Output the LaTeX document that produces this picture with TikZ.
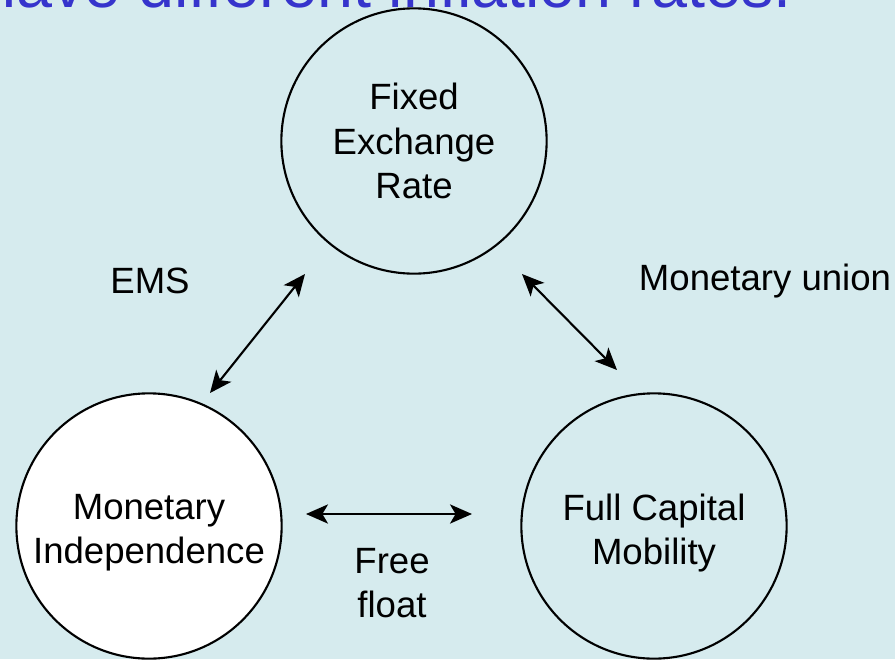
\documentclass[tikz,border=0pt]{standalone}
\usepackage{fontspec}
\setmainfont{Liberation Sans}
\usetikzlibrary{arrows.meta}
\definecolor{slidebg}{RGB}{214,235,238}
\definecolor{titleblue}{RGB}{54,52,204}
\tikzset{
  bubble/.style={circle, draw, line width=1.5pt, minimum size=6.63cm, inner sep=0pt},
  link/.style={{Stealth[length=0.55cm,width=0.48cm,inset=0.14cm]}-{Stealth[length=0.55cm,width=0.48cm,inset=0.14cm]}, line width=1.5pt},
  tag/.style={align=center, font=\fontsize{26}{31.5}\selectfont}
}
\begin{document}
\begin{tikzpicture}[x=0.025cm, y=-0.025cm]
\useasboundingbox (0,0) rectangle (895,659);
\clip (0,0) rectangle (895,659);
\fill[slidebg] (0,0) rectangle (895,659);
\node[anchor=base west, inner sep=0pt, text=titleblue, font=\fontsize{46}{50}\selectfont] (title) at (-20,7) {have different inflation rates.};

\node[bubble] (fixed) at (414,141) {};
\node[bubble, fill=white] (indep) at (149,526) {};
\node[bubble] (mobile) at (654,526) {};
\node[tag] (fixedText) at (414,141) {Fixed\\Exchange\\Rate};
\node[tag] (indepText) at (149,533) {Monetary\\Independence};
\node[tag] (mobileText) at (654,533) {Full Capital\\Mobility};

\coordinate (emsA) at (210,393);
\coordinate (emsB) at (305,274);
\coordinate (unionA) at (522,274);
\coordinate (unionB) at (617,370);
\coordinate (floatA) at (306,514);
\coordinate (floatB) at (472,514);

\draw[link] (emsA) -- (emsB);
\draw[link] (unionA) -- (unionB);
\draw[link] (floatA) -- (floatB);

\node[tag] (ems) at (150,281) {EMS};
\node[tag] (union) at (765,281) {Monetary union};
\node[tag] (float) at (392,583) {Free\\float};
\end{tikzpicture}
\end{document}
